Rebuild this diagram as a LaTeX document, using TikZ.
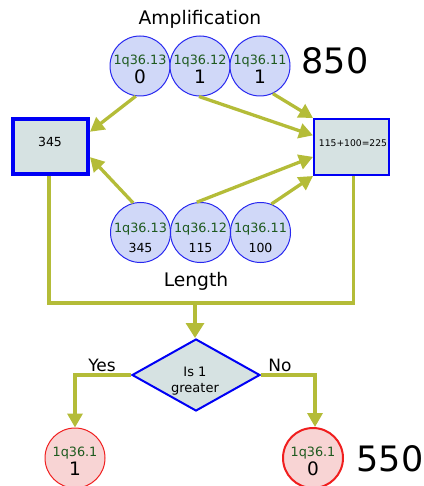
\documentclass[tikz,border=0pt]{standalone}
\usepackage{fontspec}
\setmainfont{DejaVu Sans}
\usetikzlibrary{arrows.meta,shapes.geometric,calc}
\definecolor{olivewire}{RGB}{180,188,56}
\definecolor{circfill}{RGB}{208,216,248}
\definecolor{circedge}{RGB}{40,40,240}
\definecolor{boxfill}{RGB}{214,226,226}
\definecolor{boxedge}{RGB}{0,0,245}
\definecolor{pinkfill}{RGB}{248,212,212}
\definecolor{pinkedge}{RGB}{240,30,30}
\definecolor{tagcol}{RGB}{30,90,30}
\begin{document}
\begin{tikzpicture}[x=1pt,y=-1pt,
  wire/.style={draw=olivewire,line width=3.3pt},
  flow/.style={wire,-{Triangle[length=14pt,width=15pt]}},
  bigflow/.style={wire,-{Triangle[length=15pt,width=18pt]}},
  locus/.style={circle,minimum size=60pt,inner sep=0pt,fill=circfill,draw=circedge,line width=1pt},
  result/.style={circle,minimum size=60pt,inner sep=0pt,fill=pinkfill,draw=pinkedge},
  valbox/.style={rectangle,minimum width=75pt,minimum height=56pt,inner sep=0pt,fill=boxfill,draw=boxedge},
  tag/.style={anchor=base,inner sep=0pt,text=tagcol,font=\fontsize{12.8}{14}\selectfont},
  bignum/.style={anchor=base,inner sep=0pt,font=\fontsize{18.5}{20}\selectfont},
  smallnum/.style={anchor=base,inner sep=0pt,font=\fontsize{12.5}{14}\selectfont},
  heading/.style={anchor=base,inner sep=0pt,font=\fontsize{18.7}{20}\selectfont},
  score/.style={anchor=base,inner sep=0pt,font=\fontsize{35}{38}\selectfont},
  branch/.style={anchor=base,inner sep=0pt,font=\fontsize{17}{19}\selectfont}]
\useasboundingbox (0,0) rectangle (423,486);

% amplification row
\node[heading] (amph) at (200,25) {Amplification};
\node[locus] (a1) at (140,66) {};
\node[locus] (a2) at (200,66) {};
\node[locus] (a3) at (260,66) {};
\node[tag] (a1t) at (140,64.6) {1q36.13};
\node[tag] (a2t) at (200,64.6) {1q36.12};
\node[tag] (a3t) at (260,64.6) {1q36.11};
\node[bignum] (a1n) at (140,83.6) {0};
\node[bignum] (a2n) at (200,83.6) {1};
\node[bignum] (a3n) at (260,83.6) {1};
\node[score] (s850) at (335,74) {850};

% length row
\node[locus] (l1) at (140.5,232.5) {};
\node[locus] (l2) at (200.5,232.5) {};
\node[locus] (l3) at (260.5,232.5) {};
\node[tag] (l1t) at (140.5,232.6) {1q36.13};
\node[tag] (l2t) at (200.5,232.6) {1q36.12};
\node[tag] (l3t) at (260.5,232.6) {1q36.11};
\node[smallnum] (l1n) at (140.5,252.4) {345};
\node[smallnum] (l2n) at (200.5,252.4) {115};
\node[smallnum] (l3n) at (260.5,252.4) {100};
\node[heading] (lenh) at (196,286) {Length};

% value boxes
\node[valbox,line width=4pt,minimum width=75pt,minimum height=55pt] (lbox) at (50.5,146.5) {};
\node[smallnum] (lboxt) at (50,147) {345};
\node[valbox,line width=2pt] (rbox) at (351.5,147) {};
\node[anchor=base,inner sep=0pt,font=\fontsize{9.2}{11}\selectfont] (rboxt) at (353,146.5) {115+100=225};

% arrows into the boxes
\draw[flow] (a1.262) -- ($(lbox.north east)!0.25!(lbox.south east)$);
\draw[flow] (l1.104) -- ($(lbox.north east)!0.68!(lbox.south east)$);
\draw[flow] (a2.268) -- ($(rbox.north west)!0.3!(rbox.south west)$);
\draw[flow] (a3.295) -- (rbox.north west);
\draw[flow] (l2.97) -- ($(rbox.north west)!0.67!(rbox.south west)$);
\draw[flow] (l3.69) -- (rbox.south west);

% merge into the decision
\coordinate (merge) at (195,303);
\draw[wire] ([xshift=-1.5pt]lbox.south) |- (merge) -| ([xshift=2pt]rbox.south);
\node[diamond,minimum width=128pt,minimum height=72pt,aspect=1.78,inner sep=0pt,
      fill=boxfill,draw=boxedge,line width=2pt] (dec) at (196,375) {};
\node[anchor=base,inner sep=0pt,font=\fontsize{13}{15}\selectfont] (dect1) at (195,376) {Is 1};
\node[anchor=base,inner sep=0pt,font=\fontsize{13}{15}\selectfont] (dect2) at (195,392) {greater};
\draw[bigflow] (merge) -- (merge |- dec.north);

% outcomes
\node[result,line width=1pt] (yes) at (75,458) {};
\node[result,line width=2pt] (no) at (313,458) {};
\node[tag] (yest) at (75,456.6) {1q36.1};
\node[tag] (not) at (313,456.6) {1q36.1};
\node[bignum] (yesn) at (75,475) {1};
\node[bignum] (non) at (313,475) {0};
\node[score] (s550) at (390,471) {550};
\draw[flow] (dec.west) -| (yes.north);
\draw[flow] (dec.east) -| ([xshift=2pt]no.north);
\node[branch] (yeslab) at (102,371) {Yes};
\node[branch] (nolab) at (280,371) {No};
\end{tikzpicture}
\end{document}
